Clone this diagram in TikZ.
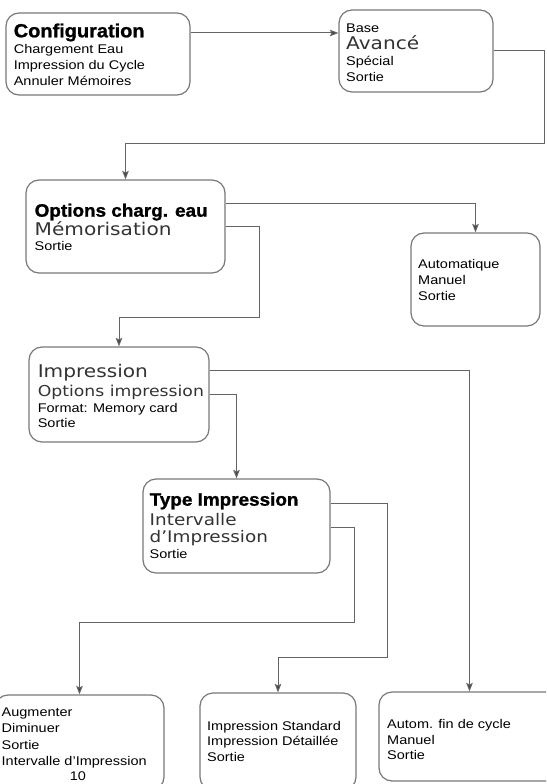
\documentclass[tikz,border=0pt]{standalone}
\usepackage{fontspec}
\setmainfont{Liberation Sans}[FakeStretch=1.15]
\newfontfamily\headfam{Liberation Sans}[FakeStretch=1.05, BoldFeatures={FakeBold=1.2}]
\newfontfamily\lightfam{DejaVu Sans}[FakeStretch=1.15]
\usetikzlibrary{arrows.meta,fit}
\definecolor{menu_line}{RGB}{120,120,120}
\definecolor{link_line}{RGB}{100,100,100}
\definecolor{tip_fill}{RGB}{65,65,65}
\newcommand\txtsz{\fontsize{12.6}{15}\selectfont}
\newcommand\hdbig{\headfam\bfseries\fontsize{19}{22}\selectfont}
\newcommand\hd{\headfam\bfseries\fontsize{18}{21}\selectfont}
\newcommand\lightsz[1]{\lightfam\fontsize{#1}{#1}\selectfont\color{black!80}}

\begin{document}
\begin{tikzpicture}[x=1pt, y=-1pt,
    menu/.style={draw=menu_line, line width=1.2pt, rounded corners=13pt, inner sep=0pt},
    txt/.style={anchor=base west, inner sep=0pt, font=\txtsz},
    link/.style={draw=link_line, line width=1pt,
      -{Stealth[length=8.5pt, width=6.5pt, inset=1.5pt, fill=tip_fill]}}]

    \useasboundingbox (0,0) rectangle (546,784);
    \clip (0,0) rectangle (546,784);

    % Menu boxes
    \node[menu, fit={(6,13) (190,95)}] (cfg) {};
    \node[menu, fit={(339,10) (493,92)}] (base) {};
    \node[menu, fit={(26,180) (225,273)}] (opt) {};
    \node[menu, fit={(411,233) (540,326)}] (auto) {};
    \node[menu, fit={(29,347) (209,442)}] (imp) {};
    \node[menu, fit={(143,479) (330,573)}] (typ) {};
    \node[menu, fit={(-5,695) (164,790)}] (aug) {};
    \node[menu, fit={(200,693) (356,790)}] (std) {};
    \node[menu, fit={(379,692) (560,781)}] (fin) {};

    % Configuration
    \foreach \t/\y [count=\i] in {{\hdbig Configuration}/37.3, Chargement Eau/53.3,
        Impression du Cycle/69.3, Annuler Mémoires/85}
      \node[txt] (cfg-\i) at (13.6,\y) {\t};

    % Base / Avance
    \foreach \t/\y [count=\i] in {Base/32.3, {\lightsz{17.5}Avancé}/50, Spécial/66, Sortie/81.7}
      \node[txt] (base-\i) at (346,\y) {\t};

    % Options charg. eau
    \foreach \t/\y [count=\i] in {{\hd Options charg. eau}/216.7,
        {\lightsz{17.5}Mémorisation}/235.7, Sortie/250}
      \node[txt] (opt-\i) at (34.5,\y) {\t};

    % Automatique
    \foreach \t/\y [count=\i] in {Automatique/268.3, Manuel/284.3, Sortie/300}
      \node[txt] (auto-\i) at (418,\y) {\t};

    % Impression
    \foreach \t/\y [count=\i] in {{\lightsz{17.5}Impression}/377.3,
        {\lightsz{15}Options impression}/396, Format: Memory card/412.3, Sortie/427.3}
      \node[txt] (imp-\i) at (37.6,\y) {\t};

    % Type Impression
    \foreach \t/\y [count=\i] in {{\hd Type Impression}/505.7, {\lightsz{16}Intervalle}/525,
        {\lightsz{16}d’Impression}/542.3, Sortie/558.3}
      \node[txt] (typ-\i) at (149.5,\y) {\t};

    % Augmenter / Diminuer
    \foreach \t/\y [count=\i] in {Augmenter/716.7, Diminuer/732.7, Sortie/749,
        Intervalle d’Impression/765}
      \node[txt] (aug-\i) at (1.5,\y) {\t};
    \node[txt, anchor=base] (aug-val) at (78,780.7) {10};

    % Impression Standard / Detaillee
    \foreach \t/\y [count=\i] in {Impression Standard/730, Impression Détaillée/745.7, Sortie/761.7}
      \node[txt] (std-\i) at (207,\y) {\t};

    % Autom. fin de cycle
    \foreach \t/\y [count=\i] in {Autom. fin de cycle/728.3, Manuel/744, Sortie/759.3}
      \node[txt] (fin-\i) at (387,\y) {\t};

    % Connectors
    \draw[link] (cfg.east |- 0,33) -- (base.west |- 0,33);
    \draw[link] (base.east |- 0,51) -| (544,143) -| (opt.north);
    \draw[link] (opt.east |- 0,203) -| (auto.north);
    \draw[link] (opt.east |- 0,226) -| (259,317) -| (imp.north);
    \draw[link] (imp.east |- 0,370) -| (fin.north);
    \draw[link] (imp.east |- 0,394) -| (typ.north);
    \draw[link] (typ.east |- 0,503) -| (387,657) -| (std.north);
    \draw[link] (typ.east |- 0,527) -| (354,622) -| (aug.north);

  \end{tikzpicture}
\end{document}
